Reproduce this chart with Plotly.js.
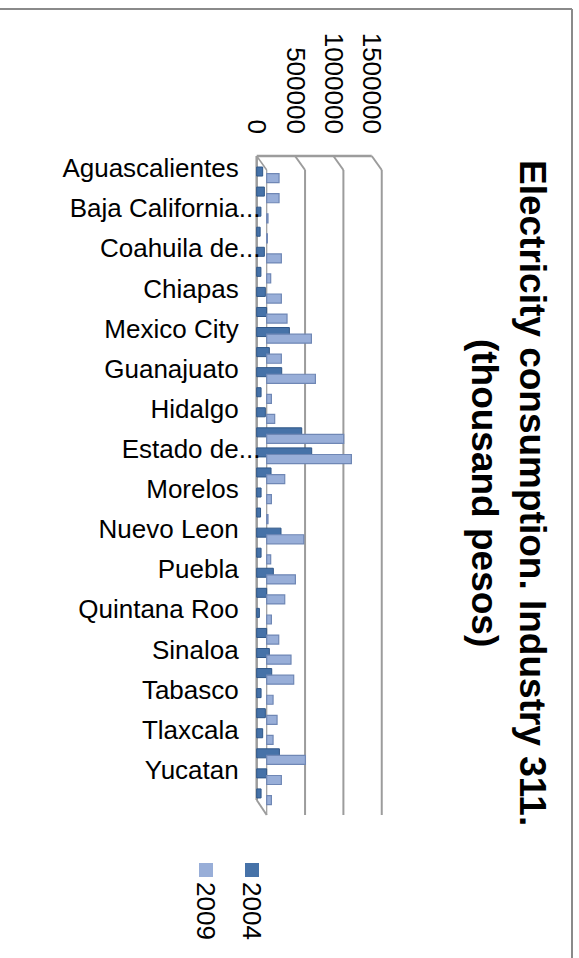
<!DOCTYPE html>
<html>
<head>
<meta charset="utf-8">
<script src="https://cdn.plot.ly/plotly-3.0.1.min.js"></script>
<style>
  html, body { margin: 0; padding: 0; background: #ffffff; }
  #chart { width: 579px; height: 958px; }
</style>
</head>
<body>
<div id="chart"></div>
<script>
// States of Mexico, in statistical order
const states = [
  "Aguascalientes", "Baja California", "Baja California Sur", "Campeche",
  "Coahuila de Zaragoza", "Colima", "Chiapas", "Chihuahua",
  "Mexico City", "Durango", "Guanajuato", "Guerrero",
  "Hidalgo", "Jalisco", "Estado de Mexico", "Michoacan",
  "Morelos", "Nayarit", "Nuevo Leon", "Oaxaca",
  "Puebla", "Queretaro", "Quintana Roo", "San Luis Potosi",
  "Sinaloa", "Sonora", "Tabasco", "Tamaulipas",
  "Tlaxcala", "Veracruz", "Yucatan", "Zacatecas"
];

// Labels shown on the category axis (every second state, long names cut).
// Full names carry trailing no-break spaces so the cut names can run on into the wall.
const labelledStates = [
  "Aguascalientes", "Baja California Sur", "Coahuila de Zaragoza", "Chiapas",
  "Mexico City", "Guanajuato", "Hidalgo", "Estado de Mexico",
  "Morelos", "Nuevo Leon", "Puebla", "Quintana Roo",
  "Sinaloa", "Tabasco", "Tlaxcala", "Yucatan"
];
const PAD = "\u00a0\u00a0\u00a0";
const stateLabels = [
  "Aguascalientes" + PAD, "Baja California...", "Coahuila de...", "Chiapas" + PAD,
  "Mexico City" + PAD, "Guanajuato" + PAD, "Hidalgo" + PAD, "Estado de...",
  "Morelos" + PAD, "Nuevo Leon" + PAD, "Puebla" + PAD, "Quintana Roo" + PAD,
  "Sinaloa" + PAD, "Tabasco" + PAD, "Tlaxcala" + PAD, "Yucatan" + PAD
];

// Electricity consumption, industry 311 (thousand pesos)
const consumption2004 = [
  78000, 100000, 55000, 45000, 100000, 55000, 113000, 130000,
  426000, 165000, 326000, 57000, 113000, 587000, 717000, 187000,
  57000, 50000, 317000, 57000, 217000, 130000, 35000, 130000,
  165000, 196000, 57000, 113000, 78000, 296000, 130000, 57000
];
const consumption2009 = [
  161000, 161000, 17000, 9000, 191000, 52000, 191000, 265000,
  583000, 191000, 635000, 61000, 104000, 1004000, 1104000, 235000,
  61000, 17000, 483000, 52000, 374000, 235000, 61000, 157000,
  317000, 352000, 83000, 135000, 83000, 504000, 191000, 61000
];

const seriesNames = ["2004", "2009"];
const valueTicks = [0, 500000, 1000000, 1500000];
const valueTickText = ["0", "500000", "1000000", "1500000"];

// Page geometry (pixels)
const W = 579, H = 958;
const px = x => x / W;
const py = y => 1 - y / H;

// Value scale: back wall carries the 2004 row, front row (2009) sits DEPTH px to the right
const PX_PER_UNIT = 76.7 / 1e6;
const BACK_ZERO = 256.7, DEPTH = 10;
const X_MIN = -30000, X_MAX = 1600000;
const backX = v => BACK_ZERO + v * PX_PER_UNIT;
const frontX = v => backX(v) + DEPTH;

const PLOT_TOP = 156, FRONT_TOP = 170, BACK_BOTTOM = 800, FRONT_BOTTOM = 815, PLOT_BOTTOM = 816;

const FONT = "Liberation Sans, Arial, sans-serif";
const DARK = "#4672A8", LIGHT = "#98AED8";
const FRAME = "#9c9c9c";

const traces = [
  {
    type: "bar", orientation: "h", name: seriesNames[0],
    x: consumption2004, y: states, xaxis: "x", yaxis: "y",
    offset: -0.05, width: 0.45,
    marker: { color: DARK, line: { color: "#2f5687", width: 1 } },
    showlegend: false, hoverinfo: "x+y"
  },
  {
    type: "bar", orientation: "h", name: seriesNames[1],
    x: consumption2009, y: states, xaxis: "x2", yaxis: "y",
    offset: 0.28, width: 0.45,
    marker: { color: LIGHT, line: { color: "#6f87b5", width: 1.2 } },
    showlegend: false, hoverinfo: "x+y"
  }
];

// Box frame of the 3-D plot area
const line = (x0, y0, x1, y1, width, color) => ({
  type: "line", xref: "paper", yref: "paper", layer: "below",
  x0: px(x0), y0: py(y0), x1: px(x1), y1: py(y1),
  line: { color: color || FRAME, width: width || 2 }
});

const shapes = [
  // outer border
  line(0, 9, 572, 9, 2, "#8a8a8a"),
  line(572, 9, 572, H, 2, "#8a8a8a"),
  // back wall edge and top edge
  line(backX(0), PLOT_TOP, backX(0), BACK_BOTTOM, 2.5),
  line(backX(0), BACK_BOTTOM, frontX(0), FRONT_BOTTOM, 2),
  line(backX(0), PLOT_TOP, backX(1500000), PLOT_TOP, 2.5),
  line(backX(0), PLOT_TOP, frontX(0), FRONT_TOP, 1.5),
  line(frontX(0), FRONT_TOP, frontX(0), FRONT_BOTTOM, 1.2)
];
valueTicks.slice(1).forEach(v => {
  shapes.push(line(backX(v), PLOT_TOP, frontX(v), FRONT_TOP, 2));
  shapes.push(line(frontX(v), FRONT_TOP, frontX(v), FRONT_BOTTOM, 2));
});

// Legend keys
shapes.push({
  type: "rect", xref: "paper", yref: "paper", layer: "above",
  x0: px(245), x1: px(259), y0: py(863), y1: py(877),
  fillcolor: DARK, line: { width: 0 }
});
shapes.push({
  type: "rect", xref: "paper", yref: "paper", layer: "above",
  x0: px(199), x1: px(213), y0: py(863), y1: py(877),
  fillcolor: LIGHT, line: { width: 0 }
});

const annotations = [
  {
    text: "<b>Electricity consumption. Industry 311.<br>(thousand pesos)</b>",
    xref: "paper", yref: "paper", x: px(509), y: py(493),
    xanchor: "center", yanchor: "middle", textangle: 90, showarrow: false,
    font: { family: FONT, size: 37, color: "#000000" }
  },
  {
    text: seriesNames[0], xref: "paper", yref: "paper", x: px(252), y: py(911),
    xanchor: "center", yanchor: "middle", textangle: 90, showarrow: false,
    font: { family: FONT, size: 26, color: "#000000" }
  },
  {
    text: seriesNames[1], xref: "paper", yref: "paper", x: px(206), y: py(911),
    xanchor: "center", yanchor: "middle", textangle: 90, showarrow: false,
    font: { family: FONT, size: 26, color: "#000000" }
  }
];

const layout = {
  width: W, height: H,
  margin: { l: 0, r: 0, t: 0, b: 0 },
  paper_bgcolor: "#ffffff",
  plot_bgcolor: "rgba(0,0,0,0)",
  showlegend: false,
  barmode: "overlay",
  font: { family: FONT, size: 26, color: "#000000" },
  xaxis: {
    domain: [px(backX(X_MIN)), px(backX(X_MAX))],
    range: [X_MIN, X_MAX], anchor: "y", side: "top",
    tickvals: valueTicks, ticktext: valueTickText, tickangle: 90,
    ticks: "outside", ticklen: 12, tickcolor: "rgba(0,0,0,0)",
    tickfont: { family: FONT, size: 26, color: "#000000" },
    showgrid: false, zeroline: false, showline: false, automargin: false,
    fixedrange: true
  },
  xaxis2: {
    domain: [px(frontX(X_MIN)), px(frontX(X_MAX))],
    range: [X_MIN, X_MAX], anchor: "y",
    showticklabels: false, ticks: "",
    showgrid: false, zeroline: false, showline: false, automargin: false,
    fixedrange: true
  },
  yaxis: {
    domain: [py(PLOT_BOTTOM), py(PLOT_TOP)],
    type: "category", categoryarray: states, categoryorder: "array",
    range: [32.3, -0.6], anchor: "x",
    tickvals: labelledStates, ticktext: stateLabels,
    ticks: "", ticklabelstandoff: -7,
    tickfont: { family: FONT, size: 26, color: "#000000" },
    showgrid: false, zeroline: false, showline: false, automargin: false,
    fixedrange: true
  },
  shapes: shapes,
  annotations: annotations
};

Plotly.newPlot("chart", traces, layout, { displayModeBar: false, staticPlot: true });
</script>
</body>
</html>
